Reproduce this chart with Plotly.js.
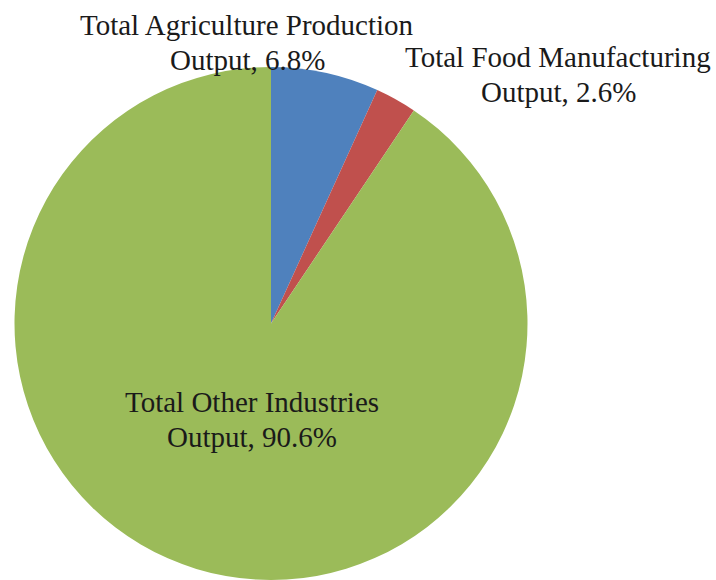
<!DOCTYPE html>
<html>
<head>
<meta charset="utf-8">
<script src="https://cdn.plot.ly/plotly-3.0.1.min.js"></script>
<style>html,body{margin:0;padding:0;background:#fff;}#chart{width:716px;height:580px;}</style>
</head>
<body>
<div id="chart"></div>
<script>
const categories = ["Total Agriculture Production Output", "Total Food Manufacturing Output", "Total Other Industries Output"];
const labelLines = [["Total Agriculture Production", "Output"], ["Total Food Manufacturing", "Output"], ["Total Other Industries", "Output"]];
const shares = [6.8, 2.6, 90.6];
const colors = ["#4F81BD", "#C0504D", "#9BBB59"];

// centre of first text line (pixels) for each label
const labelPos = [
  {x: 247, y: 25},
  {x: 558, y: 57},
  {x: 252, y: 402}
];
const lineGap = 35;

const W = 716, H = 580;
const font = {family: "Liberation Serif, Times New Roman, serif", size: 29, color: "#1a1a1a"};
const annotations = [];
categories.forEach((c, i) => {
  const lines = [labelLines[i][0], labelLines[i][1] + ", " + shares[i].toFixed(1) + "%"];
  lines.forEach((t, j) => {
    annotations.push({
      xref: "paper", yref: "paper",
      x: labelPos[i].x / W, y: 1 - (labelPos[i].y + j * lineGap) / H,
      xanchor: "center", yanchor: "middle",
      showarrow: false, text: t, font: font
    });
  });
});

const data = [{
  type: "pie",
  labels: categories,
  values: shares,
  sort: false,
  direction: "clockwise",
  rotation: 0,
  marker: {colors: colors, line: {width: 0}},
  textinfo: "none",
  hoverinfo: "label+percent",
  domain: {x: [14 / W, 528 / W], y: [0, 1 - 67 / H]}
}];

const layout = {
  width: W, height: H,
  margin: {l: 0, r: 0, t: 0, b: 0},
  paper_bgcolor: "#ffffff",
  showlegend: false,
  annotations: annotations
};

Plotly.newPlot("chart", data, layout, {displayModeBar: false, staticPlot: true});
</script>
</body>
</html>
